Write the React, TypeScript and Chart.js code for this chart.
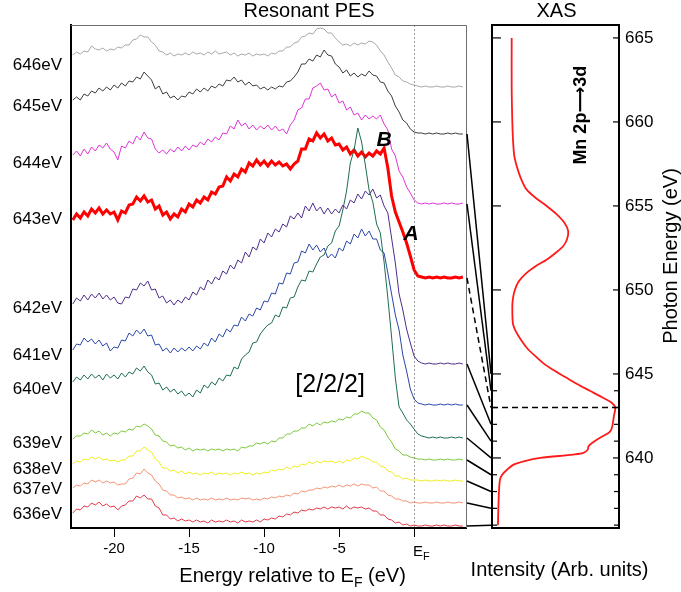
import React, { useEffect, useRef } from 'react';
import { Chart, registerables } from 'chart.js';

Chart.register(...registerables);

const FONT = "'Liberation Sans', Arial, Helvetica, sans-serif";
Chart.defaults.font.family = FONT;

// binding energy grid (eV relative to EF)
const energies = [-22.75,-22.5,-22.25,-22,-21.75,-21.5,-21.25,-21,-20.75,-20.5,-20.25,-20,-19.75,-19.5,-19.25,-19,-18.75,-18.5,-18.25,-18,-17.75,-17.5,-17.25,-17,-16.75,-16.5,-16.25,-16,-15.75,-15.5,-15.25,-15,-14.75,-14.5,-14.25,-14,-13.75,-13.5,-13.25,-13,-12.75,-12.5,-12.25,-12,-11.75,-11.5,-11.25,-11,-10.75,-10.5,-10.25,-10,-9.75,-9.5,-9.25,-9,-8.75,-8.5,-8.25,-8,-7.75,-7.5,-7.25,-7,-6.75,-6.5,-6.25,-6,-5.75,-5.5,-5.25,-5,-4.75,-4.5,-4.25,-4,-3.75,-3.5,-3.25,-3,-2.75,-2.5,-2.25,-2,-1.75,-1.5,-1.25,-1,-0.75,-0.5,-0.25,0,0.25,0.5,0.75,1,1.25,1.5,1.75,2,2.25,2.5,2.75,3,3.25];

const pes646 = [32,35,33,36,35,41,38,37,39,36,38, 37,40,39,42,42,47,48,52,50,50, 45,42,36,35,32,34,31,33,32,34, 32,35,33,34,32,35,33,36,33,34, 35,32,34,31,33,32,34,31,33,32, 33,31,34,33,36,36,40,40,44,45, 50,51,54,53,58,59,58,54,54,49, 45,42,43,41,44,42,44,43,46,45, 42,36,32,25,19,12,10,6,5,3, 2,1,0,1,0,0,1,0,0,1,0,0,1,0];
const pes645 = [34,37,34,40,38,43,41,46,43,47,44, 49,46,51,48,53,52,57,55,62,58, 54,45,48,40,42,36,38,34,38,37, 42,40,45,42,46,43,48,46,50,48, 54,53,57,52,54,49,52,48,49,45, 47,44,47,45,48,47,52,53,57,62, 70,70,75,73,79,77,84,79,78,70, 67,61,64,58,61,57,60,58,63,59, 58,52,51,43,38,28,22,14,11,5, 2,1,1,0,1,0,1,0,0,1,0,1,0,0];
const pes644 = [49,53,48,55,50,57,53,59,56,61,55, 52,44,58,56,63,60,68,64,72,66, 65,55,51,54,50,55,52,57,53,58, 54,59,57,62,59,65,62,67,64,71, 70,78,75,84,78,81,75,79,74,78, 75,79,74,78,73,75,70,79,84,94, 96,105,105,116,118,121,114,115,107,110, 101,103,94,97,89,91,84,89,85,88, 85,89,80,74,55,48,33,27,17,11, 4,1,0,1,0,1,0,0,1,0,1,0,0,1];
const pes643 = [58,64,60,66,62,69,65,70,64,68,64, 66,58,67,65,73,74,81,77,82,76, 78,69,72,63,66,59,64,61,69,66, 74,71,78,75,81,78,86,84,91,92, 101,97,104,101,109,106,115,112,118,113, 117,112,117,113,116,112,114,109,114,117, 129,129,139,137,145,140,144,137,140,133, 134,128,131,124,128,122,126,121,125,122, 127,124,130,110,82,66,56,46,35,22, 8,2,1,0,1,0,1,0,1,0,0,1,0,1];
const pes642 = [60,66,63,69,64,70,66,71,65,69,64, 67,61,60,67,66,75,74,81,78,83, 74,75,66,68,61,64,59,64,61,67, 64,72,69,77,74,84,80,87,84,93, 90,99,95,104,101,112,107,117,114,125, 121,131,127,135,132,140,137,148,145,151, 146,158,153,161,153,157,150,156,150,155, 151,159,155,164,161,170,165,173,169,175, 166,169,158,151,126,101,70,54,35,21, 8,3,1,0,1,0,0,1,0,1,0,0,1,0];
const pes641 = [55,61,60,67,63,66,61,65,59,62,54, 58,57,65,64,72,69,75,71,76,69, 70,60,61,54,57,52,57,53,57,54, 58,54,59,56,62,59,67,63,71,68, 76,73,80,79,88,84,91,89,97,95, 104,103,112,111,122,121,132,131,142,143, 154,152,161,155,160,153,157,147,151,147, 157,154,164,161,171,167,176,169,174,166, 166,155,152,132,111,90,75,50,34,16, 6,2,1,0,1,0,0,1,0,1,0,1,0,0];
const pes640 = [56,61,58,63,59,64,60,63,58,64,60, 63,59,65,61,66,64,70,67,72,66, 63,54,55,48,51,46,49,44,47,42, 45,41,48,45,53,50,56,53,60,57, 63,62,71,69,79,83,86,95,96,104, 109,113,115,123,121,131,130,140,141,151, 158,157,167,166,174,181,183,192,195,207, 212,228,247,275,288,310,296,273,248,236, 214,205,176,140,101,60,31,25,18,14, 9,4,2,1,0,1,0,1,0,0,1,0,1,0];
const pes639 = [21,24,24,27,26,30,27,29,25,27,24, 27,26,29,28,31,30,34,33,36,34, 31,25,24,19,18,14,15,12,13,10, 12,9,11,10,11,9,11,10,11,9, 11,10,11,9,13,12,14,14,17,16, 18,16,19,18,22,22,26,26,29,29, 32,32,36,34,37,35,38,37,39,38, 41,40,43,42,46,46,49,47,47,42, 40,33,30,23,18,11,9,5,5,3, 2,1,1,0,1,0,0,1,0,1,0,0,1,0];
const pes638 = [17,20,19,22,21,24,22,24,21,22,20, 21,19,21,21,25,25,30,30,34,31, 29,22,19,13,13,10,11,8,10,7, 9,7,8,6,8,7,9,6,8,7, 8,6,8,7,9,7,8,6,8,7, 9,8,11,10,12,11,14,12,15,14, 17,16,19,17,20,18,20,19,20,18, 20,18,21,20,23,22,25,23,22,19, 19,15,14,10,9,5,5,2,3,1, 1,1,0,1,0,0,1,0,1,0,0,1,0,0];
const pes637 = [15,18,17,20,19,23,21,23,20,22,20, 21,18,19,19,24,25,30,29,34,30, 28,22,19,13,12,8,8,5,6,4, 5,3,5,3,4,3,5,3,4,3, 5,3,4,3,5,4,5,3,4,3, 5,4,6,5,7,6,8,7,10,9, 12,11,13,13,15,14,16,15,17,16, 18,16,18,17,19,17,19,18,18,15, 16,12,12,8,7,4,4,2,2,0, 1,0,0,1,0,0,1,0,0,1,0,0,1,0];
const pes636 = [13,17,16,20,19,23,21,24,20,22,19, 20,16,20,21,25,25,30,28,31,27, 27,20,18,11,11,7,8,5,7,5, 6,4,6,4,5,3,6,4,5,4, 6,4,5,3,6,4,5,4,6,4, 7,6,8,7,10,9,12,11,14,13, 16,15,17,16,18,17,19,17,19,18, 19,17,20,17,19,18,19,17,18,15, 15,11,11,7,6,3,4,1,2,0, 1,0,0,1,0,0,1,0,1,0,0,1,0,0];

const photonEnergies = [646, 645, 644, 643, 642, 641, 640, 639, 638, 637, 636];
const spectrumOffsets = [441, 394, 324, 250, 164, 123, 90, 68, 47, 25, 2];
const spectrumColors = ['#a8a8a8', '#3c3c3c', '#e034d6', '#ff0000', '#4d2d8c', '#2a46a8', '#1d6d4e', '#7cc83a', '#eeec1c', '#f49274', '#e23a48'];
const spectrumWidths = [1, 1, 1, 3, 1, 1, 1, 1, 1, 1, 1];
const spectra = [pes646, pes645, pes644, pes643, pes642, pes641, pes640, pes639, pes638, pes637, pes636];
const photonLabels = ['646eV', '645eV', '644eV', '643eV', '642eV', '641eV', '640eV', '639eV', '638eV', '637eV', '636eV'];
const labelPositions = [462.5, 421.5, 365, 309, 220, 173, 139, 84.5, 58.5, 38.5, 13.5];
const connectedEnergies = [645, 644, 643, 642, 641, 640, 639, 638, 637, 636];
const resonanceEnergy = 643;
const peTicks = [-20, -15, -10, -5, 0];
const xasTicks = [640, 645, 650, 655, 660, 665];

const xasEnergy = [636,637,638,638.7,639,639.3,639.6,639.8,640,640.2,640.3,640.5,640.7,640.9,641.2,641.5,641.7,642,642.5,643,643.3,643.6,644,644.4,644.8,645.2,645.6,646,646.5,647,647.5,648,649,649.5,650,650.5,651,651.4,651.8,652.2,652.6,653,653.5,654,654.5,655,655.5,656,656.5,657,657.5,658,659,660,662,665];
const xasIntensity = [0.047,0.05,0.055,0.063,0.08,0.118,0.17,0.25,0.38,0.64,0.72,0.755,0.76,0.79,0.85,0.92,0.94,0.95,0.96,0.97,0.94,0.87,0.77,0.67,0.58,0.49,0.41,0.35,0.28,0.23,0.19,0.165,0.16,0.165,0.18,0.21,0.27,0.34,0.43,0.5,0.56,0.59,0.6,0.57,0.51,0.43,0.34,0.27,0.235,0.21,0.19,0.175,0.165,0.16,0.155,0.155];

const annotB = { e: -2.0, v: 382 };
const annotA = { e: -0.2, v: 288 };
const bracketNote = { e: -5.6, v: 143 };
const xasNote = { x: 0.70, e: 660.4 };

function line(ctx: any, x1: number, y1: number, x2: number, y2: number) {
  ctx.beginPath();
  ctx.moveTo(x1, y1);
  ctx.lineTo(x2, y2);
  ctx.stroke();
}

function drawParts(ctx: any, parts: { text: string; font: string; dy?: number }[], left: number, baseline: number) {
  let x = left;
  ctx.textAlign = 'left';
  ctx.textBaseline = 'alphabetic';
  for (const p of parts) {
    ctx.font = p.font;
    ctx.fillText(p.text, x, baseline + (p.dy || 0));
    x += ctx.measureText(p.text).width;
  }
}

function partsWidth(ctx: any, parts: { text: string; font: string }[]) {
  let w = 0;
  for (const p of parts) {
    ctx.font = p.font;
    w += ctx.measureText(p.text).width;
  }
  return w;
}

const overlayPlugin = {
  id: 'overlay',
  beforeDatasetsDraw(chart: any) {
    const { ctx, chartArea, scales } = chart;
    const x0 = Math.round(scales.xPES.getPixelForValue(0)) + 0.5;
    ctx.save();
    ctx.strokeStyle = '#9a9a9a';
    ctx.lineWidth = 1;
    ctx.setLineDash([2, 2]);
    line(ctx, x0, chartArea.top, x0, chartArea.bottom);
    ctx.restore();
  },
  afterDraw(chart: any) {
    const { ctx, chartArea: ca, scales } = chart;
    const xP = scales.xPES, yP = scales.yPES, xX = scales.xXAS, yX = scales.yXAS;
    ctx.save();
    // PES panel top / right frame
    ctx.strokeStyle = '#6e6e6e';
    ctx.lineWidth = 1;
    ctx.beginPath();
    ctx.moveTo(xP.left, ca.top + 0.5);
    ctx.lineTo(xP.right + 0.5, ca.top + 0.5);
    ctx.lineTo(xP.right + 0.5, ca.bottom);
    ctx.stroke();
    // XAS panel top / left frame
    ctx.strokeStyle = '#000';
    ctx.lineWidth = 2;
    ctx.beginPath();
    ctx.moveTo(xX.left, ca.bottom + 1);
    ctx.lineTo(xX.left, ca.top);
    ctx.lineTo(xX.right + 1, ca.top);
    ctx.stroke();
    // XAS inner ticks
    ctx.lineWidth = 1.2;
    for (const v of xasTicks) {
      const y = yX.getPixelForValue(v);
      line(ctx, xX.left, y, xX.left + 9, y);
      line(ctx, xX.right - 6, y, xX.right, y);
    }
    for (const v of photonEnergies) {
      if (xasTicks.includes(v) || v > 645) continue;
      const y = yX.getPixelForValue(v);
      line(ctx, xX.left, y, xX.left + 5, y);
      line(ctx, xX.right - 5, y, xX.right, y);
    }
    // resonance dashed line in XAS
    ctx.lineWidth = 1.5;
    ctx.setLineDash([6, 4]);
    const yr = yX.getPixelForValue(resonanceEnergy);
    line(ctx, xX.left, yr, xX.right, yr);
    // connectors
    connectedEnergies.forEach((e) => {
      const i = photonEnergies.indexOf(e);
      const y1 = yP.getPixelForValue(spectrumOffsets[i]);
      const y2 = yX.getPixelForValue(e);
      ctx.setLineDash(e === resonanceEnergy ? [6, 4] : []);
      ctx.lineWidth = 1.5;
      line(ctx, xP.right + 1, y1, xX.left - 1, y2);
    });
    ctx.setLineDash([]);
    ctx.fillStyle = '#000';
    // titles
    ctx.font = `20px ${FONT}`;
    ctx.textAlign = 'center';
    ctx.textBaseline = 'alphabetic';
    ctx.fillText('Resonant PES', xP.getPixelForValue(-7.0), 17);
    ctx.fillText('XAS', (xX.left + xX.right) / 2 + 1, 17);
    // EF tick label
    const ef = xP.getPixelForValue(0);
    drawParts(ctx, [{ text: 'E', font: `15px ${FONT}` }, { text: 'F', font: `11px ${FONT}`, dy: 4 }], ef - 1, 556);
    // x-axis title
    const tParts = [
      { text: 'Energy relative to E', font: `20px ${FONT}` },
      { text: 'F', font: `14px ${FONT}`, dy: 5 },
      { text: ' (eV)', font: `20px ${FONT}` },
    ];
    const tw = partsWidth(ctx, tParts);
    drawParts(ctx, tParts, xP.getPixelForValue(-8.1) - tw / 2, 582);
    ctx.font = `20px ${FONT}`;
    ctx.textAlign = 'center';
    ctx.fillText('Intensity (Arb. units)', (xX.left + xX.right) / 2 + 4, 576);
    // Photon energy title
    ctx.save();
    ctx.translate(671, 256);
    ctx.rotate(-Math.PI / 2);
    ctx.textBaseline = 'middle';
    ctx.fillText('Photon Energy (eV)', 0, 0);
    ctx.restore();
    // Mn 2p -> 3d
    ctx.save();
    ctx.translate(xX.getPixelForValue(xasNote.x), yX.getPixelForValue(xasNote.e));
    ctx.rotate(-Math.PI / 2);
    ctx.font = `bold 18px ${FONT}, 'DejaVu Sans'`;
    ctx.textAlign = 'center';
    ctx.textBaseline = 'middle';
    ctx.fillText('Mn 2p\u27F63d', 0, 0);
    ctx.restore();
    // A / B
    ctx.font = `italic bold 21px ${FONT}`;
    ctx.textAlign = 'center';
    ctx.textBaseline = 'alphabetic';
    ctx.fillText('B', xP.getPixelForValue(annotB.e), yP.getPixelForValue(annotB.v));
    ctx.fillText('A', xP.getPixelForValue(annotA.e), yP.getPixelForValue(annotA.v));
    // [2/2/2]
    ctx.font = `25px ${FONT}`;
    ctx.textBaseline = 'middle';
    ctx.fillText('[2/2/2]', xP.getPixelForValue(bracketNote.e), yP.getPixelForValue(bracketNote.v));
    ctx.restore();
  },
};

export default function App() {
  const ref = useRef<HTMLCanvasElement>(null);
  useEffect(() => {
    if (!ref.current) return;
    const datasets: any[] = [];
    // lower photon energies first so that they are drawn on top
    for (let i = spectra.length - 1; i >= 0; i--) {
      datasets.push({
        label: photonLabels[i],
        data: energies.map((e, k) => ({ x: e, y: spectrumOffsets[i] + spectra[i][k] })),
        borderColor: spectrumColors[i],
        borderWidth: spectrumWidths[i],
        pointRadius: 0,
        tension: 0,
        fill: false,
        xAxisID: 'xPES',
        yAxisID: 'yPES',
      });
    }
    datasets.push({
      label: 'XAS',
      data: xasEnergy.map((e, k) => ({ x: xasIntensity[k], y: e })),
      borderColor: '#ff1a1a',
      borderWidth: 1.8,
      pointRadius: 0,
      tension: 0.3,
      fill: false,
      xAxisID: 'xXAS',
      yAxisID: 'yXAS',
    });

    const chart = new Chart(ref.current, {
      type: 'line',
      data: { datasets },
      plugins: [overlayPlugin as any],
      options: {
        responsive: false,
        animation: false,
        layout: { padding: { top: 25, left: 0, right: 0, bottom: 0 } },
        plugins: { legend: { display: false }, tooltip: { enabled: false }, title: { display: false } },
        scales: {
          xPES: {
            type: 'linear',
            position: 'bottom',
            stack: 'bottomRow',
            stackWeight: 395,
            min: -22.87,
            max: 3.46,
            afterFit: (s: any) => { s.height = 64; },
            afterBuildTicks: (s: any) => { s.ticks = peTicks.map((v) => ({ value: v })); },
            ticks: {
              autoSkip: false,
              maxRotation: 0,
              color: '#000',
              font: { size: 15 },
              padding: 3,
              callback: (v: any) => (v === 0 ? '' : String(v)),
            },
            grid: { display: true, drawOnChartArea: false, drawTicks: true, tickLength: 9, color: '#000', lineWidth: 1 },
            border: { display: true, color: '#000', width: 2 },
          },
          xGap: {
            type: 'linear',
            position: 'bottom',
            stack: 'bottomRow',
            stackWeight: 26,
            min: 0,
            max: 1,
            afterFit: (s: any) => { s.height = 64; },
            ticks: { display: false },
            grid: { display: false, drawTicks: false },
            border: { display: false },
          },
          xXAS: {
            type: 'linear',
            position: 'bottom',
            stack: 'bottomRow',
            stackWeight: 127,
            min: 0,
            max: 1,
            afterFit: (s: any) => { s.height = 64; },
            ticks: { display: false },
            grid: { display: false, drawTicks: false },
            border: { display: true, color: '#000', width: 2 },
          },
          yPES: {
            type: 'linear',
            position: 'left',
            min: 0,
            max: 503,
            afterFit: (s: any) => { s.width = 71; },
            afterBuildTicks: (s: any) => { s.ticks = labelPositions.map((v) => ({ value: v })); },
            ticks: {
              autoSkip: false,
              color: '#000',
              font: { size: 17 },
              padding: 9,
              callback: (_v: any, i: number) => photonLabels[i],
            },
            grid: { display: false, drawTicks: false },
            border: { display: true, color: '#000', width: 2 },
          },
          yXAS: {
            type: 'linear',
            position: 'right',
            min: 635.83,
            max: 665.77,
            afterFit: (s: any) => { s.width = 62; },
            afterBuildTicks: (s: any) => { s.ticks = xasTicks.map((v) => ({ value: v })); },
            ticks: {
              autoSkip: false,
              color: '#000',
              font: { size: 17 },
              padding: 6,
              callback: (v: any) => String(v),
            },
            grid: { display: false, drawTicks: false },
            border: { display: true, color: '#000', width: 2 },
          },
        },
      } as any,
    });
    return () => chart.destroy();
  }, []);

  return (
    <div style={{ position: 'absolute', left: 0, top: 0, width: 681, height: 592, background: '#fff' }}>
      <canvas ref={ref} width={681} height={592} style={{ display: 'block', width: 681, height: 592 }} />
    </div>
  );
}
